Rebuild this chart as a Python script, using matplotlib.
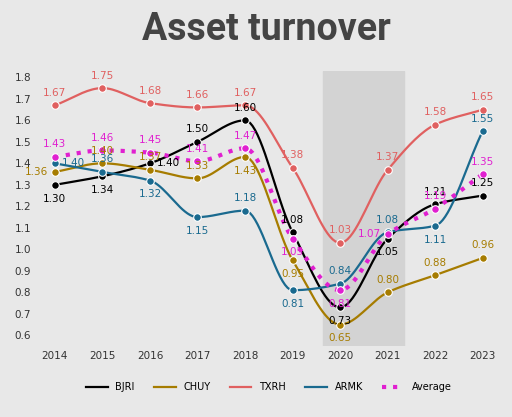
import numpy as np
import matplotlib.pyplot as plt

years = [2014, 2015, 2016, 2017, 2018, 2019, 2020, 2021, 2022, 2023]
bjri = [1.30, 1.34, 1.40, 1.50, 1.60, 1.08, 0.73, 1.05, 1.21, 1.25]
chuy = [1.36, 1.40, 1.37, 1.33, 1.43, 0.95, 0.65, 0.80, 0.88, 0.96]
txrh = [1.67, 1.75, 1.68, 1.66, 1.67, 1.38, 1.03, 1.37, 1.58, 1.65]
armk = [1.40, 1.36, 1.32, 1.15, 1.18, 0.81, 0.84, 1.08, 1.11, 1.55]
avg = [1.43, 1.46, 1.45, 1.41, 1.47, 1.05, 0.81, 1.07, 1.19, 1.35]


def smooth(x, y, n=20):
    # monotone-ish cubic hermite curve through the points
    x = np.asarray(x, float)
    y = np.asarray(y, float)
    d = np.diff(y) / np.diff(x)
    m = np.zeros_like(y)
    m[0], m[-1] = d[0], d[-1]
    for i in range(1, len(y) - 1):
        m[i] = 0 if d[i - 1] * d[i] <= 0 else 2 / (1 / d[i - 1] + 1 / d[i])
    xs, ys = [], []
    t = np.linspace(0, 1, n)
    for i in range(len(x) - 1):
        h = x[i + 1] - x[i]
        h00 = 2 * t ** 3 - 3 * t ** 2 + 1
        h10 = t ** 3 - 2 * t ** 2 + t
        h01 = -2 * t ** 3 + 3 * t ** 2
        h11 = t ** 3 - t ** 2
        xs.extend(x[i] + t * h)
        ys.extend(h00 * y[i] + h10 * h * m[i] + h01 * y[i + 1] + h11 * h * m[i + 1])
    return xs, ys


U, D, L, R = (0, 9), (0, -10), (-13, 0), (13, 0)
bg = '#e8e8e8'
fig = plt.figure(figsize=(5.12, 4.17), dpi=100, facecolor=bg)
ax = fig.add_axes([0.07, 0.17, 0.91, 0.66], facecolor=bg)
fig.text(0.52, 0.93, 'Asset turnover', ha='center', va='center', fontsize=27,
         fontweight='bold', color='#444444', family='Roboto')

ax.axvspan(2019.65, 2021.35, color='#d3d3d3', zorder=0)

series = [('BJRI', bjri, 'black', '-', [D, D, R, U, U, U, D, D, U, U]),
          ('CHUY', chuy, '#a67c00', '-', [L, U, U, U, D, D, D, U, U, U]),
          ('TXRH', txrh, '#e06060', '-', [U] * 10),
          ('ARMK', armk, '#1a6a8f', '-', [R, U, D, D, U, D, U, U, D, U]),
          ('Average', avg, '#e020d0', ':', [U, U, U, U, U, D, D, L, U, U])]

for name, vals, col, ls, offs in series:
    sx, sy = smooth(years, vals)
    lw = 3 if ls == ':' else 1.6
    ax.plot(sx, sy, color=col, ls=ls, lw=lw, label=name, zorder=3)
    ax.scatter(years, vals, color=col, s=30, edgecolor='white', linewidth=0.8, zorder=4)
    for x, v, o in zip(years, vals, offs):
        ax.annotate(f'{v:.2f}', (x, v), xytext=o, textcoords='offset points',
                    ha='center', va='center', fontsize=7.5, color=col, zorder=5)

ax.set_xlim(2013.6, 2023.4)
ax.set_ylim(0.55, 1.83)
ax.set_xticks(years)
ax.set_yticks(np.arange(0.6, 1.81, 0.1))
ax.tick_params(length=0, labelsize=7.5, colors='#333333')
for s in ax.spines.values():
    s.set_visible(False)

ax.legend(loc='upper center', bbox_to_anchor=(0.5, -0.1), ncol=5, frameon=False,
          fontsize=7, handlelength=2.2)
fig.savefig('out.png', dpi=100, facecolor=bg)
